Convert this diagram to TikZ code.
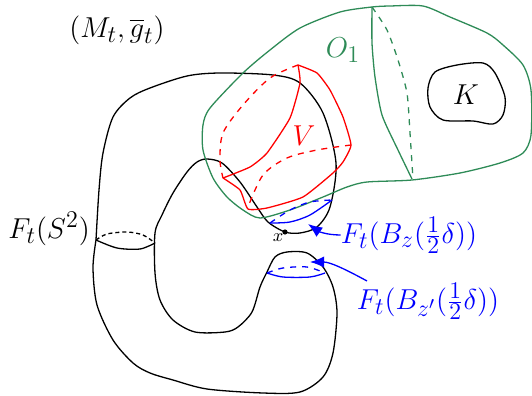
\documentclass[tikz,border=0pt]{standalone}
\usepackage{amsmath}
\usepackage{amssymb}
\usepackage{color}
\usetikzlibrary{arrows.meta,positioning}
\definecolor{opengreen}{RGB}{46, 139, 87}
\definecolor{ballblue}{RGB}{0, 0, 255}
\definecolor{regionred}{RGB}{255, 0, 0}
\DeclareMathSizes{15.4}{15.4}{12}{9}

\begin{document}
\begin{tikzpicture}[x=0.5pt, y=-0.5pt,
    curve/.style={line width=0.65pt, black, line join=round},
    sphere/.style={line width=0.65pt, black, dash pattern=on 2pt off 1.5pt},
    opencurve/.style={line width=0.65pt, opengreen, line join=round},
    region/.style={line width=0.65pt, regionred, line join=round},
    ball/.style={line width=0.65pt, ballblue},
    label/.style={inner sep=0pt, font=\fontsize{15.4}{18}\selectfont},
    arrow/.style={-{Latex[length=2.5mm, width=2mm]}, line width=0.65pt, ballblue}]

\useasboundingbox (0, 0) rectangle (532, 396);

% the manifold
\draw[curve] plot[smooth, tension=0.5] coordinates {(96,240) (99,190) (103,153) (113,117) (130,98) (150,88) (187,76) (220,73) (273,75) (300,83) (323,113) (336,163) (330,207) (317,227) (300,233) (285,232) (268,222) (257,207) (240,182) (222,163) (207,159) (197,162) (187,172) (173,193) (162,215) (155,233) (155,273) (160,300) (173,320) (195,332) (225,332) (238,327) (252,312) (260,287) (267,272) (275,257) (287,252) (307,253) (323,267) (333,287) (337,313) (333,353) (323,377) (300,392) (263,393) (207,389) (173,380) (150,373) (133,363) (113,340) (97,305) (93,268) (96,240)};
\draw[curve] plot[smooth, tension=0.5] coordinates {(96,240) (117,248) (140,249) (155,243)};
\draw[sphere] plot[smooth, tension=0.5] coordinates {(96,240) (107,234) (127,232) (143,235) (155,243)};

% the open set
\draw[opencurve] plot[smooth cycle, tension=0.45] coordinates {(372,7) (390,6) (423,6) (450,17) (487,33) (503,45) (523,65) (531,90) (531,135) (523,153) (500,163) (460,173) (412,180) (367,182) (347,187) (323,197) (290,210) (260,218) (243,210) (227,197) (213,178) (203,150) (203,125) (210,108) (243,73) (270,50) (300,28) (340,12)};
\draw[opencurve] plot[smooth, tension=0.4] coordinates {(372,7) (372,43) (375,77) (382,115) (398,150) (412,179)};
\draw[opencurve, dashed] plot[smooth, tension=0.4] coordinates {(372,7) (387,30) (398,60) (407,93) (410,133) (413,179)};

% the compact set
\draw[curve] plot[smooth cycle, tension=0.5] coordinates {(435,72) (457,65) (483,63) (495,73) (505,97) (503,115) (493,124) (473,121) (443,120) (430,107) (428,88)};

% the region
\draw[region] plot[smooth, tension=0.3] coordinates {(298,65) (317,73) (330,90) (343,117) (351,145) (343,162) (333,173) (303,197) (267,208) (248,209) (240,190) (223,178)};
\draw[region] plot[smooth, tension=0.3] coordinates {(223,178) (250,167) (267,153) (290,118) (300,83) (298,65)};
\draw[region, dashed] plot[smooth, tension=0.5] coordinates {(298,65) (270,78) (243,105) (223,133) (220,160) (223,178)};
\draw[region, dashed] plot[smooth, tension=0.5] coordinates {(351,145) (317,150) (287,158) (263,175) (248,207)};

% the two balls
\draw[ball] plot[smooth, tension=0.5] coordinates {(270,223) (290,222) (310,215) (332,200)};
\draw[ball, dashed] plot[smooth, tension=0.5] coordinates {(270,223) (290,210) (310,202) (332,200)};
\draw[ball] plot[smooth, tension=0.5] coordinates {(267,273) (283,277) (310,277) (325,273)};
\draw[ball, dashed] plot[smooth, tension=0.5] coordinates {(267,273) (283,268) (307,267) (325,273)};

\fill (285, 232) circle (1.3pt);

\node[label] (mfd) at (117, 30) {$(M_t,\overline{g}_t)$};
\node[label, opengreen] (oone) at (343, 50) {$O_1$};
\node[label] (cpt) at (466, 95) {$K$};
\node[label, regionred] (vset) at (304, 136) {$V$};
\node[label] (neck) at (49, 229) {$F_t(S^2)$};
\node[inner sep=0pt, font=\small] (xpt) at (278, 238) {$x$};
\node[label, ballblue] (ballz) at (409, 235) {$F_t(B_z(\frac{1}{2}\delta))$};
\node[label, ballblue] (ballzp) at (428, 301) {$F_t(B_{z'}(\frac{1}{2}\delta))$};

\coordinate (tipz) at (308, 224);
\coordinate (tipzp) at (310, 262);
\coordinate (tailzp) at (367, 281);

\draw[arrow] (ballz.west) .. controls (326, 235) and (318, 231) .. (tipz);
\draw[arrow] (tailzp) .. controls (345, 269) and (330, 262) .. (tipzp);

\end{tikzpicture}
\end{document}
